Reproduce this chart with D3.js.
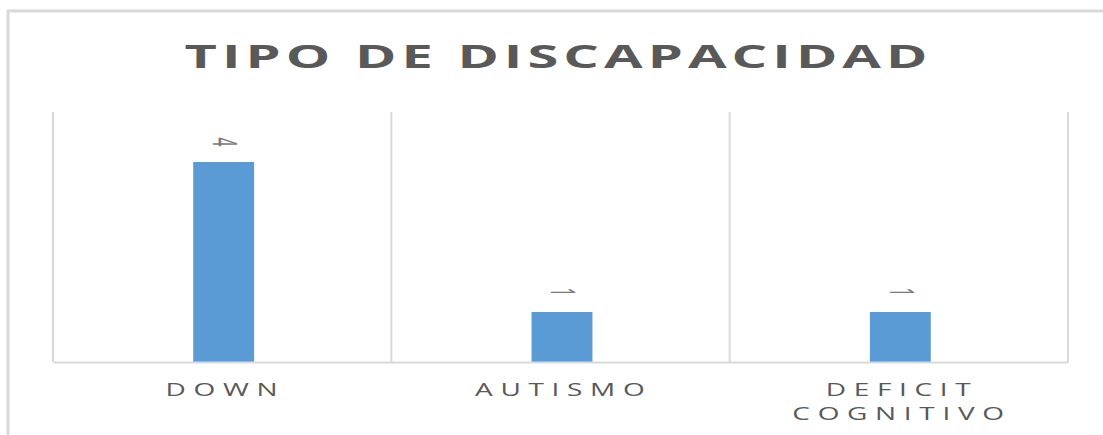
<!DOCTYPE html>
<html>
<head>
<meta charset="utf-8">
<script src="https://cdn.jsdelivr.net/npm/d3@7"></script>
<style>
  body { margin: 0; background: #fff; }
  svg { display: block; }
</style>
</head>
<body>
<svg id="chart" width="1103" height="435"></svg>
<script>
const categories = ["DOWN", "AUTISMO", "DEFICIT COGNITIVO"];
const tickLabels = [["DOWN"], ["AUTISMO"], ["DEFICIT", "COGNITIVO"]];
const values = [4, 1, 1];
const title = "TIPO DE DISCAPACIDAD";

const svg = d3.select("#chart"),
  plot = { left: 53, right: 1068, top: 112, bottom: 362 };

const grid = "#d9d9d9";

// outer chart frame (only top and left edges are inside the window)
svg.append("path")
  .attr("d", "M8,440 V11 H1110")
  .attr("fill", "none")
  .attr("stroke", grid)
  .attr("stroke-width", 3);

// title, glyphs are stretched wide in the original
const titleScale = 1.75;
svg.append("g")
  .attr("transform", `translate(556,68) scale(${titleScale},1)`)
  .append("text")
  .attr("text-anchor", "middle")
  .attr("textLength", 743 / titleScale)
  .attr("lengthAdjust", "spacing")
  .style("font-family", "'Open Sans', sans-serif")
  .style("font-weight", "bold")
  .style("font-size", "32px")
  .style("fill", "#595959")
  .text(title);

const x = d3.scaleBand()
  .domain(categories)
  .range([plot.left, plot.right])
  .padding(0);

const y = d3.scaleLinear()
  .domain([0, 5])
  .range([plot.bottom, plot.top]);

// vertical category gridlines
const bounds = categories.map(c => x(c)).concat([plot.right]);
svg.append("g")
  .selectAll("line")
  .data(bounds)
  .join("line")
  .attr("x1", d => d).attr("x2", d => d)
  .attr("y1", y(5)).attr("y2", y(0))
  .attr("stroke", grid)
  .attr("stroke-width", 2);

// bars
const barW = x.bandwidth() * 0.18;
svg.append("g")
  .selectAll("rect")
  .data(values)
  .join("rect")
  .attr("x", (d, i) => x(categories[i]) + x.bandwidth() / 2 - barW / 2 + 1.5)
  .attr("y", d => y(d))
  .attr("width", barW)
  .attr("height", d => y(0) - y(d))
  .attr("fill", "#5b9bd5");

// value labels, rotated
svg.append("g")
  .selectAll("text")
  .data(values)
  .join("text")
  .attr("transform", (d, i) =>
    `translate(${x(categories[i]) + x.bandwidth() / 2 + 2},${y(d) - 20}) scale(2,1) rotate(90)`)
  .attr("text-anchor", "middle")
  .attr("dy", "0.35em")
  .style("font-family", "'Open Sans', sans-serif")
  .style("font-size", "16px")
  .style("fill", "#7a7a7a")
  .text(d => d);

// x axis
const axis = svg.append("g")
  .attr("transform", `translate(0,${y(0)})`)
  .call(d3.axisBottom(x).tickSize(0).tickSizeOuter(0));

axis.select(".domain")
  .attr("stroke", grid)
  .attr("stroke-width", 2);

axis.selectAll(".tick text")
  .attr("y", 34)
  .attr("dy", 0)
  .attr("transform", "scale(1.6,1)")
  .style("font-family", "'Open Sans', sans-serif")
  .style("font-size", "17.5px")
  .style("letter-spacing", "4.8px")
  .style("fill", "#595959")
  .each(function (d, i) {
    const t = d3.select(this).text(null);
    tickLabels[i].forEach((line, k) => {
      t.append("tspan")
        .attr("x", 2)
        .attr("y", 34 + k * 24)
        .text(line);
    });
  });
</script>
</body>
</html>
